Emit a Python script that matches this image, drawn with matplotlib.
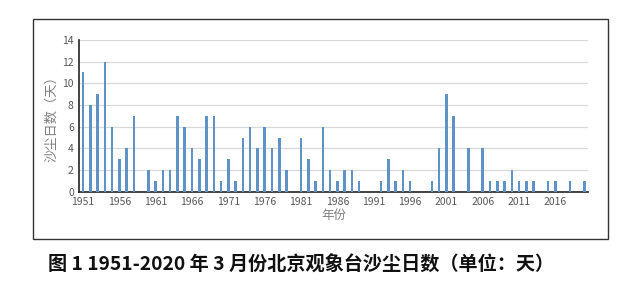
import matplotlib
matplotlib.use("Agg")
import matplotlib.pyplot as plt
from matplotlib.patches import Rectangle

plt.rcParams['font.family'] = ['Noto Sans CJK SC', 'DejaVu Sans']

years = list(range(1951, 2021))
dust_days = [11, 8, 9, 12, 6, 3, 4, 7, 0, 2,
             1, 2, 2, 7, 6, 4, 3, 7, 7, 1,
             3, 1, 5, 6, 4, 6, 4, 5, 2, 0,
             5, 3, 1, 6, 2, 1, 2, 2, 1, 0,
             0, 1, 3, 1, 2, 1, 0, 0, 1, 4,
             9, 7, 0, 4, 0, 4, 1, 1, 1, 2,
             1, 1, 1, 0, 1, 1, 0, 1, 0, 1]
xtick_years = list(range(1951, 2017, 5))
yticks = list(range(0, 15, 2))

fig = plt.figure(figsize=(6.4, 2.98), dpi=100)
ax = fig.add_axes([0.124, 0.356, 0.795, 0.510])

ax.bar(years, dust_days, width=0.35, color='#5f93c8', zorder=3)
ax.set_xlim(1950.5, 2020.5)
ax.set_ylim(0, 14)
ax.set_yticks(yticks)
ax.set_xticks(xtick_years)
ax.set_xticklabels([str(y) for y in xtick_years])
ax.tick_params(axis='both', length=0, labelsize=7.5, colors='#595959', pad=4)
ax.grid(axis='y', color='#d9d9d9', linewidth=0.9, zorder=0)
for s in ['top', 'right']:
    ax.spines[s].set_visible(False)
ax.spines['left'].set_color('#222222')
ax.spines['bottom'].set_color('#222222')
ax.spines['left'].set_linewidth(1.2)
ax.spines['bottom'].set_linewidth(1.2)

ax.set_ylabel('沙尘日数（天）', fontsize=9.5, color='#7f7f7f', labelpad=3)
ax.set_xlabel('年份', fontsize=9, color='#7f7f7f', labelpad=1)

fig.patches.append(Rectangle((0.0516, 0.198), 0.898, 0.738, transform=fig.transFigure,
                             fill=False, edgecolor='#333333', linewidth=1.0))

fig.text(0.075, 0.111, '图 1 1951-2020 年 3 月份北京观象台沙尘日数（单位：天）',
         fontsize=13.8, fontweight='bold', color='#111111', va='center', ha='left')

fig.savefig('out.png', dpi=100)
